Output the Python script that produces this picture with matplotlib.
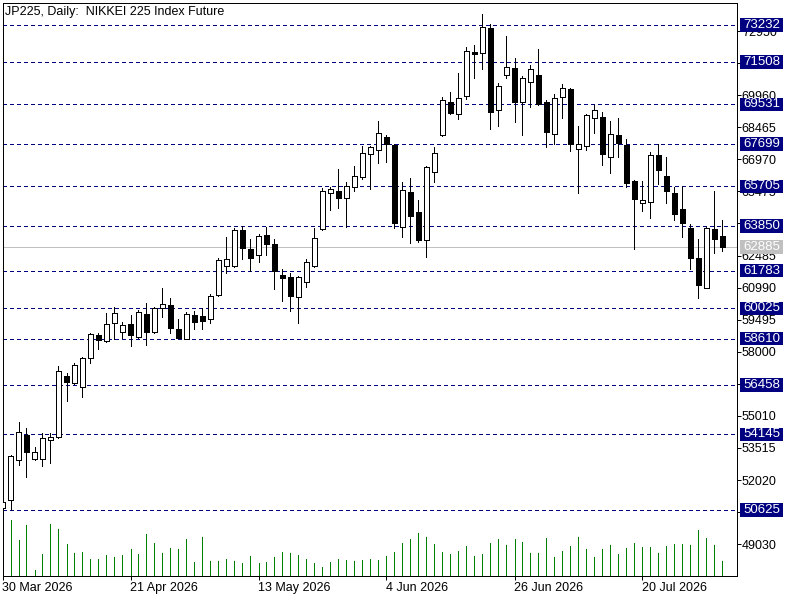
import matplotlib
matplotlib.use('Agg')
import matplotlib.pyplot as plt
from matplotlib.patches import Rectangle
from matplotlib.transforms import blended_transform_factory

plt.rcParams['font.family'] = ['Liberation Sans', 'DejaVu Sans']

title = "JP225, Daily:  NIKKEI 225 Index Future"

opens = [50720, 51080, 52943, 54122, 53018, 53018, 53903, 54015, 56858, 56559,
         56373, 57697, 58783, 58490, 59343, 58909, 59282, 58676, 59762, 58909,
         60041, 60181, 59063, 58597, 59701, 59669, 59515, 60633, 61985, 61985,
         63677, 62777, 62497, 63444, 63024, 61580, 61486, 60540, 61268, 61985,
         63709, 65388, 65481, 65183, 65667, 66161, 67233, 67392, 68012, 67639,
         63803, 65448, 64516, 63197, 66395, 68091, 69629, 69070, 69909, 71974,
         71913, 73078, 69256, 70888, 71214, 69629, 70562, 70888, 69629, 68166,
         69862, 70249, 67439, 67606, 68883, 68944, 67066, 68105, 67639, 65961,
         64921, 64996, 67173, 66194, 65388, 64656, 63756, 62358, 60988, 63709,
         63397]
highs = [51050, 53190, 54714, 54434, 53549, 54201, 54201, 57338, 57012, 57478,
         57757, 58890, 58876, 59794, 60074, 59403, 59715, 59948, 60260, 60102,
         60974, 60507, 59529, 59870, 59902, 60027, 60679, 62358, 63365, 63756,
         63864, 63258, 63490, 63831, 63244, 61859, 61659, 61533, 62340, 63784,
         65648, 65695, 66520, 65900, 66674, 67592, 67592, 68757, 68105, 67686,
         65900, 66087, 65073, 66640, 67560, 69862, 70109, 70981, 72207, 72300,
         73745, 73265, 70543, 72719, 71680, 70855, 71354, 72113, 69736, 70002,
         70482, 70310, 68525, 69084, 69503, 69191, 68757, 68911, 67905, 66008,
         65961, 67326, 67672, 67093, 65695, 65728, 63958, 63258, 63803, 65495,
         64143]
lows = [50650, 50630, 52724, 52178, 52957, 52692, 52832, 53990, 55721, 56499,
        55907, 57464, 58116, 58457, 58583, 58657, 58284, 58620, 58331, 58870,
        59636, 58890, 58640, 58580, 59077, 59077, 59329, 60600, 61687, 61950,
        62326, 61766, 62199, 62512, 60941, 60382, 59915, 59329, 61006, 61950,
        63680, 64609, 64703, 63831, 65509, 66040, 65574, 66814, 66861, 63784,
        63365, 63085, 63132, 62432, 65928, 68060, 69098, 68837, 69769, 70776,
        71167, 68371, 68538, 70748, 68725, 68105, 69424, 69503, 67560, 67672,
        68911, 67373, 65388, 67406, 68184, 66707, 66320, 67066, 65695, 62777,
        64562, 64250, 65807, 64949, 64143, 63365, 61859, 60493, 60960, 62591,
        62712]
closes = [51000, 53140, 54248, 53316, 53316, 53968, 54028, 57091, 56606, 57385,
          57697, 58816, 58536, 59282, 59794, 59235, 58797, 59841, 58909, 60027,
          60214, 59123, 58657, 59748, 59403, 59422, 60586, 62265, 62312, 63677,
          62852, 62386, 63397, 63024, 61766, 61454, 60615, 61486, 62172, 63290,
          65495, 65574, 65183, 65714, 66194, 67252, 67545, 68184, 67672, 63989,
          65528, 64343, 63211, 66600, 67252, 69736, 69144, 69816, 72020, 71894,
          73125, 69191, 70375, 71260, 69657, 70748, 71167, 69564, 68259, 69816,
          70282, 67686, 67672, 69037, 69256, 67219, 68138, 67746, 65882, 65108,
          65073, 67173, 66474, 65509, 64409, 64018, 62386, 61114, 63756, 63244,
          62885]
volumes = [0, 5600, 3600, 5100, 600, 2200, 5200, 4700, 3200, 2300,
           2400, 1700, 1700, 2100, 1900, 2100, 2700, 2200, 4200, 3300,
           2300, 2800, 2700, 3700, 1400, 3900, 1500, 1500, 1700, 1500,
           1300, 2000, 1300, 1400, 1900, 2400, 2300, 2100, 1700, 1300,
           900, 1400, 1700, 1600, 1500, 1600, 1700, 1600, 2000, 2400,
           3300, 3700, 4300, 3900, 3200, 2400, 2200, 2500, 3000, 2000,
           2200, 3300, 3700, 3100, 3700, 3400, 2300, 2300, 3800, 1900,
           2500, 3000, 3900, 2700, 1900, 2700, 3100, 2200, 2800, 3300,
           2900, 2900, 2300, 3000, 3200, 3200, 3100, 4600, 3800, 3100,
           1500]

levels = [73232, 71508, 69531, 67699, 65705, 63850, 61783, 60025, 58610, 56458, 54145, 50625]
current_price = 62885
price_ticks = [49030, 50525, 52020, 53515, 55010, 56505, 58000, 59495, 60990,
               62485, 63980, 65475, 66970, 68465, 69960, 71455, 72950]
# tick labels hidden behind the level tags in the reference are left blank
price_tick_labels = ['49030', '', '52020', '53515', '55010', '', '58000', '59495', '60990',
                     '62485', '', '65475', '66970', '68465', '69960', '', '72950']
date_tick_bars = [0, 16, 32, 48, 64, 80]
date_tick_labels = ['30 Mar 2026', '21 Apr 2026', '13 May 2026', '4 Jun 2026',
                    '26 Jun 2026', '20 Jul 2026']

# ---- layout (pixels) ----
W, H = 800, 600
L, R, T, B = 2.5, 737.0, 2.5, 576.0
BAR_PX = 8.0
PX_PER_PRICE = 485.0 / (73232 - 50625)
REF_PRICE, REF_Y = 73232, 25.0
NAVY = '#000080'
LW = 0.72
FS = 9

fig = plt.figure(figsize=(W / 100, H / 100), dpi=100)
pos = [L / W, 1 - B / H, (R - L) / W, (B - T) / H]
vax = fig.add_axes(pos)
ax = fig.add_axes(pos)
ax.patch.set_alpha(0)

xmax = (R - L) / BAR_PX
ytop = REF_PRICE + (REF_Y - T) / PX_PER_PRICE
ybot = REF_PRICE - (B - REF_Y) / PX_PER_PRICE
ax.set_xlim(0, xmax)
ax.set_ylim(ybot, ytop)

# volumes
vax.set_xlim(0, xmax)
vax.set_ylim(0, (B - T) * 100)
vax.axis('off')
xs = list(range(len(opens)))
vax.vlines(xs, 0, volumes, color='#008000', lw=LW, antialiased=False)

# horizontal levels
for lv in levels:
    ax.axhline(lv, color=NAVY, lw=LW, ls=(0, (3, 3)), zorder=1.5, antialiased=False)
ax.axhline(current_price, color='#C0C0C0', lw=LW, zorder=1.4, antialiased=False)

# candles
ax.vlines(xs, lows, highs, color='black', lw=LW, zorder=3, antialiased=False)
bottoms = [min(o, c) for o, c in zip(opens, closes)]
heights = [max(abs(c - o), 25) for o, c in zip(opens, closes)]
faces = ['white' if c >= o else 'black' for o, c in zip(opens, closes)]
ax.bar(xs, heights, bottom=bottoms, width=0.55, color=faces, edgecolor='black',
       linewidth=LW, zorder=4, antialiased=False)

# spines / ticks
for s in ax.spines.values():
    s.set_linewidth(LW)
    s.set_color('black')
ax.yaxis.tick_right()
ax.set_yticks(price_ticks)
ax.set_yticklabels(price_tick_labels)
ax.tick_params(axis='y', direction='out', length=3, width=LW, pad=0.5, labelsize=FS,
               colors='black')
ax.set_xticks(date_tick_bars)
ax.set_xticklabels(date_tick_labels)
for lab in ax.get_xticklabels():
    lab.set_horizontalalignment('left')
ax.tick_params(axis='x', direction='out', length=3, width=LW, pad=1.5, labelsize=FS,
               colors='black')

# right-side level labels
btr = blended_transform_factory(ax.transAxes, ax.transData)
bx0 = (740 - L) / (R - L)
bw = (783 - 740) / (R - L)
hh = 6.8 / PX_PER_PRICE


def tag(value, fc):
    ax.add_patch(Rectangle((bx0, value - hh), bw, 2 * hh, transform=btr,
                           facecolor=fc, edgecolor='none', clip_on=False, zorder=10))
    ax.text(bx0 + bw / 2, value, str(value), transform=btr, ha='center', va='center',
            fontsize=FS + 0.5, color='white', zorder=11, clip_on=False)


for lv in levels:
    tag(lv, NAVY)
tag(current_price, '#C0C0C0')

# title
ax.text((5 - L) / (R - L), 1 - (11.5 - T) / (B - T), title, transform=ax.transAxes,
        ha='left', va='center', fontsize=FS, color='black', zorder=12)

fig.savefig('out.png', dpi=100)
